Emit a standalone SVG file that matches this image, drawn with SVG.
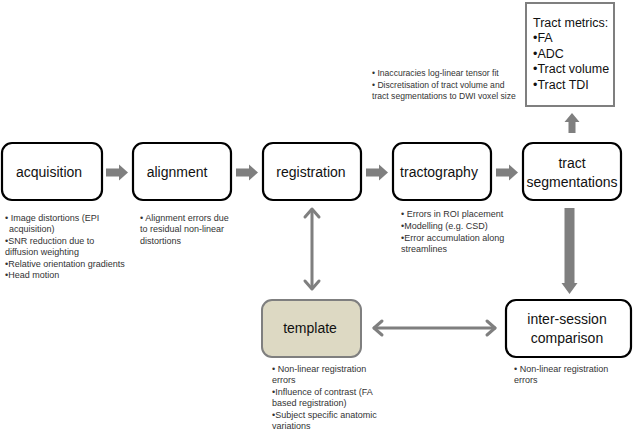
<svg xmlns="http://www.w3.org/2000/svg" width="635" height="432" viewBox="0 0 635 432">
<style>
.box{fill:#fff;stroke:#000;stroke-width:2.2}
.tpl{fill:#ddd9c3;stroke:#7f7f7f;stroke-width:2}
.met{fill:#fff;stroke:#7f7f7f;stroke-width:2}
.lbl{font-family:"Liberation Sans",Arial,sans-serif;font-size:14px;fill:#111;text-anchor:middle}
.mtx{font-family:"Liberation Sans",Arial,sans-serif;font-size:12.5px;fill:#111}
.note{font-family:"Liberation Sans",Arial,sans-serif;font-size:9px;fill:#333}
.note8{font-family:"Liberation Sans",Arial,sans-serif;font-size:8.6px;fill:#333}
.fat{fill:#7f7f7f}
.thin{fill:none;stroke:#7f7f7f;stroke-width:3;stroke-linecap:round;stroke-linejoin:round}
</style>
<rect width="635" height="432" fill="#fff"/>
<g id="connectors">
<polygon class="fat" points="106,168.5 119,168.5 119,164.5 128,172.5 119,180.5 119,176.5 106,176.5"/>
<polygon class="fat" points="236,168.5 249,168.5 249,164.5 258,172.5 249,180.5 249,176.5 236,176.5"/>
<polygon class="fat" points="366,168.5 379,168.5 379,164.5 388,172.5 379,180.5 379,176.5 366,176.5"/>
<polygon class="fat" points="496,168.5 509,168.5 509,164.5 518,172.5 509,180.5 509,176.5 496,176.5"/>
<polygon class="fat" points="568.5,133 568.5,122 564.5,122 572,113 579.5,122 575.5,122 575.5,133"/>
<polygon class="fat" points="564.5,208 574.5,208 574.5,283 577.5,283 569.5,294 561.5,283 564.5,283"/>
<line class="thin" x1="312" y1="210" x2="312" y2="288"/>
<polyline class="thin" points="305,217 312,209 319,217"/>
<polyline class="thin" points="305,281 312,289 319,281"/>
<line class="thin" x1="374" y1="328" x2="495" y2="328"/>
<polyline class="thin" points="382,321 374,328 382,335"/>
<polyline class="thin" points="487,321 495,328 487,335"/>
</g>
<g id="acquisition">
<rect class="box" x="2" y="143" width="100" height="57" rx="10"/>
<text class="lbl" x="49" y="177">acquisition</text>
<text class="note" x="5" y="221">• Image distortions (EPI</text>
<text class="note" x="9" y="232">acquisition)</text>
<text class="note" x="5" y="243.5">•SNR reduction due to</text>
<text class="note" x="5" y="255">diffusion weighting</text>
<text class="note" x="5" y="266.5">•Relative orientation gradients</text>
<text class="note" x="5" y="278">•Head motion</text>
</g>
<g id="alignment">
<rect class="box" x="133" y="143" width="98" height="57" rx="10"/>
<text class="lbl" x="177" y="177">alignment</text>
<text class="note" x="140" y="221">• Alignment errors due</text>
<text class="note" x="140" y="232">to residual non-linear</text>
<text class="note" x="140" y="243.5">distortions</text>
</g>
<g id="registration">
<rect class="box" x="263" y="143" width="98" height="57" rx="10"/>
<text class="lbl" x="311" y="177">registration</text>
<text class="note8" x="372" y="75.5">• Inaccuracies log-linear tensor fit</text>
<text class="note8" x="372" y="87.5">• Discretisation of tract volume and</text>
<text class="note8" x="372" y="98.5">tract segmentations to DWI voxel size</text>
</g>
<g id="tractography">
<rect class="box" x="393" y="143" width="98" height="57" rx="10"/>
<text class="lbl" x="439" y="177">tractography</text>
<text class="note" x="401" y="216.5">• Errors in ROI placement</text>
<text class="note" x="401" y="229">•Modelling (e.g. CSD)</text>
<text class="note" x="401" y="241">•Error accumulation along</text>
<text class="note" x="401" y="251.5">streamlines</text>
</g>
<g id="tract-segmentations">
<rect class="box" x="523" y="143" width="98" height="57" rx="10"/>
<text class="lbl" x="572" y="168">tract</text>
<text class="lbl" x="572" y="187">segmentations</text>
</g>
<g id="tract-metrics">
<rect class="met" x="526" y="3" width="88" height="103"/>
<text class="mtx" x="533" y="26.5">Tract metrics:</text>
<text class="mtx" x="533" y="42">•FA</text>
<text class="mtx" x="533" y="57.5">•ADC</text>
<text class="mtx" x="533" y="73">•Tract volume</text>
<text class="mtx" x="533" y="88.5">•Tract TDI</text>
</g>
<g id="template">
<rect class="tpl" x="262" y="300" width="99" height="57" rx="10"/>
<text class="lbl" x="310" y="333">template</text>
<text class="note" x="272" y="372">• Non-linear registration</text>
<text class="note" x="272" y="383">errors</text>
<text class="note" x="272" y="395">•Influence of contrast (FA</text>
<text class="note" x="272" y="406">based registration)</text>
<text class="note" x="272" y="418">•Subject specific anatomic</text>
<text class="note" x="272" y="429">variations</text>
</g>
<g id="inter-session">
<rect class="box" x="506" y="300" width="125" height="57" rx="10"/>
<text class="lbl" x="567" y="324">inter-session</text>
<text class="lbl" x="567" y="343">comparison</text>
<text class="note" x="514" y="372">• Non-linear registration</text>
<text class="note" x="514" y="383">errors</text>
</g>
</svg>
